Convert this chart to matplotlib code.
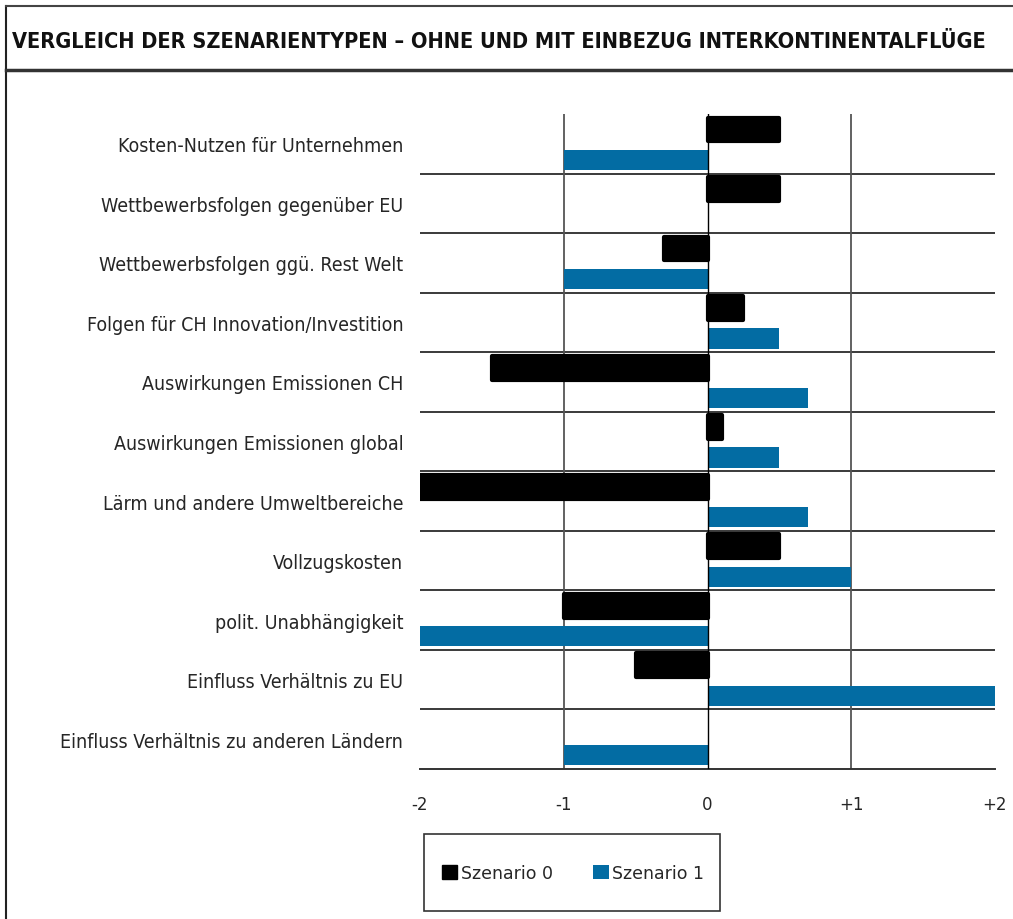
import numpy as np
import matplotlib
matplotlib.use('Agg')
import matplotlib.pyplot as plt
from matplotlib.lines import Line2D
from matplotlib.patches import Patch, Rectangle

categories = ['Kosten-Nutzen für Unternehmen',
              'Wettbewerbsfolgen gegenüber EU',
              'Wettbewerbsfolgen ggü. Rest Welt',
              'Folgen für CH Innovation/Investition',
              'Auswirkungen Emissionen CH',
              'Auswirkungen Emissionen global',
              'Lärm und andere Umweltbereiche',
              'Vollzugskosten',
              'polit. Unabhängigkeit',
              'Einfluss Verhältnis zu EU',
              'Einfluss Verhältnis zu anderen Ländern']
szenario0 = [0.5, 0.5, -0.3, 0.25, -1.5, 0.1, -2, 0.5, -1, -0.5, 0]
szenario1 = [-1, 0, -1, 0.5, 0.7, 0.5, 0.7, 1, -2, 2, -1]
xticks = [-2, -1, 0, 1, 2]
xticklabels = ['-2', '-1', '0', '+1', '+2']

blue = '#036ca3'
txt = '#262626'

W, H = 1013, 920
fig = plt.figure(figsize=(W/100, H/100), dpi=100)
ax = fig.add_axes([420/W, 1-770/H, 575/W, 655/H])

y = np.arange(len(categories))
lw0 = [3 if v != 0 else 0 for v in szenario0]
ax.barh(y - 0.24, szenario0, height=0.40, color='black', edgecolor='black',
        linewidth=lw0, joinstyle='round', zorder=3)
ax.barh(y + 0.27, szenario1, height=0.34, color=blue, zorder=3)

ax.set_xlim(-2, 2)
ax.set_ylim(len(categories) - 0.5, -0.5)

# Trennlinien zwischen den Kategorien
for i in range(len(categories) - 1):
    ax.axhline(i + 0.5, color='#3a3a3a', lw=1.4, zorder=1)
for xv in [-1, 1]:
    ax.axvline(xv, color='#555555', lw=1.3, zorder=1)
ax.axvline(0, color='black', lw=1.0, zorder=4)

for s in ['top', 'right', 'left']:
    ax.spines[s].set_visible(False)
ax.spines['bottom'].set_color('#333333')
ax.spines['bottom'].set_linewidth(1.4)

ax.set_yticks(y)
ax.set_yticklabels(categories, fontsize=14, color=txt, fontstretch='condensed')
ax.tick_params(axis='y', length=0, pad=12)
ax.set_xticks(xticks)
ax.set_xticklabels(xticklabels, fontsize=12, color=txt)
ax.tick_params(axis='x', length=0, pad=19)
ax.set_xticks([-2, 2], minor=True)
ax.tick_params(axis='x', which='minor', length=5, width=1.2, color='#333333')

# Rahmen und Titel
fig.add_artist(Line2D([6/W, 6/W], [0, 1-7/H], color='#222222', lw=1.5))
fig.add_artist(Line2D([6/W, 1], [1-7/H, 1-7/H], color='#444444', lw=1.5))
fig.add_artist(Line2D([6/W, 1], [1-71/H, 1-71/H], color='#333333', lw=2.5))
fig.text(12/W, 1-42/H,
         'VERGLEICH DER SZENARIENTYPEN – OHNE UND MIT EINBEZUG INTERKONTINENTALFLÜGE',
         fontsize=15.6, fontweight='bold', fontstretch='condensed', color='#111111',
         va='center', ha='left')

# Legende
fig.add_artist(Rectangle((424/W, 1-912/H), 296/W, 77/H, transform=fig.transFigure,
                         fill=False, edgecolor='#333333', lw=1.2))
handles = [Patch(facecolor='black', edgecolor='black'), Patch(facecolor=blue)]
leg = fig.legend(handles, ['Szenario 0', 'Szenario 1'], loc='center',
                 bbox_to_anchor=(573/W, 1-874/H), ncol=2, fontsize=12.5,
                 frameon=False, handlelength=0.9, handleheight=0.9,
                 handletextpad=0.2, columnspacing=2.35, borderaxespad=0)
for t in leg.get_texts():
    t.set_color(txt)

fig.savefig('out.png', dpi=100)
